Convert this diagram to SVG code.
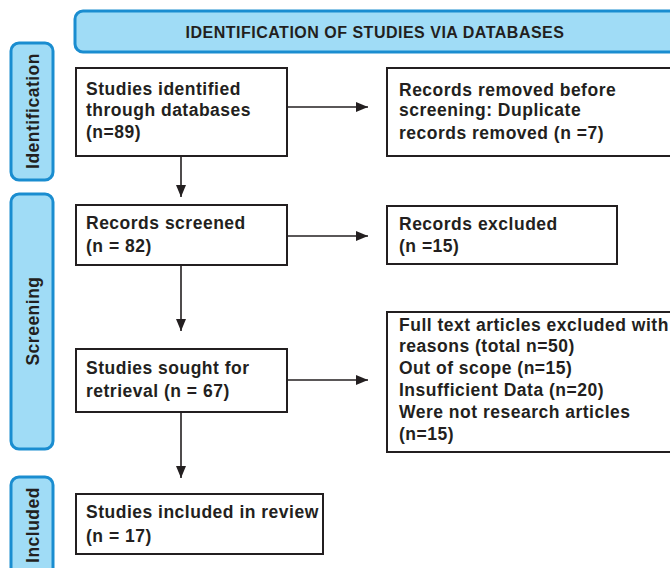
<svg xmlns="http://www.w3.org/2000/svg" width="670" height="568" viewBox="0 0 670 568">
<style>
.phase{fill:#a0dcf6;stroke:#1a8dd0;stroke-width:3}
.box{fill:#fff;stroke:#231f20;stroke-width:2}
.t{font-family:"Liberation Sans",Arial,sans-serif;font-weight:bold;font-size:17.5px;letter-spacing:0.5px;fill:#231f20}
.h{font-family:"Liberation Sans",Arial,sans-serif;font-weight:bold;font-size:16px;letter-spacing:0.5px;fill:#231f20}
.c{stroke:#231f20;stroke-width:1.6;fill:none}
</style>
<defs>
<marker id="ah" viewBox="0 0 12 10" refX="12" refY="5" markerWidth="12" markerHeight="10" markerUnits="userSpaceOnUse" orient="auto">
<path d="M0,0 L12,5 L0,10 Z" fill="#231f20"/>
</marker>
</defs>
<g id="banner">
<rect class="phase" x="75" y="11" width="620" height="41" rx="8"/>
<text class="h" x="375" y="38" text-anchor="middle">IDENTIFICATION OF STUDIES VIA DATABASES</text>
</g>
<g id="phase-identification">
<rect class="phase" x="11" y="43" width="42" height="137" rx="8"/>
<text class="t" transform="translate(39,111) rotate(-90)" text-anchor="middle">Identification</text>
</g>
<g id="phase-screening">
<rect class="phase" x="11" y="194" width="42" height="255" rx="8"/>
<text class="t" transform="translate(39,321) rotate(-90)" text-anchor="middle">Screening</text>
</g>
<g id="phase-included">
<rect class="phase" x="11" y="477" width="42" height="100" rx="8"/>
<text class="t" transform="translate(39,525) rotate(-90)" text-anchor="middle">Included</text>
</g>
<g id="identified">
<rect class="box" x="76" y="68" width="211" height="88"/>
<text class="t" x="86" y="95">Studies identified</text>
<text class="t" x="86" y="116">through databases</text>
<text class="t" x="86" y="138">(n=89)</text>
</g>
<g id="removed">
<rect class="box" x="387" y="68" width="300" height="88"/>
<text class="t" x="399" y="96">Records removed before</text>
<text class="t" x="399" y="116">screening:  Duplicate</text>
<text class="t" x="399" y="139">records removed (n =7)</text>
</g>
<g id="screened">
<rect class="box" x="76" y="205" width="211" height="60"/>
<text class="t" x="86" y="229">Records screened</text>
<text class="t" x="86" y="252">(n = 82)</text>
</g>
<g id="excluded">
<rect class="box" x="387" y="206" width="230" height="58"/>
<text class="t" x="399" y="230">Records excluded</text>
<text class="t" x="399" y="252">(n =15)</text>
</g>
<g id="sought">
<rect class="box" x="76" y="349" width="211" height="63"/>
<text class="t" x="86" y="374">Studies sought for</text>
<text class="t" x="86" y="397">retrieval (n = 67)</text>
</g>
<g id="fulltext">
<rect class="box" x="387" y="312" width="300" height="140"/>
<text class="t" x="399" y="331">Full text articles excluded with</text>
<text class="t" x="399" y="352">reasons (total n=50)</text>
<text class="t" x="399" y="374">Out of scope (n=15)</text>
<text class="t" x="399" y="396">Insufficient Data (n=20)</text>
<text class="t" x="399" y="418">Were not research articles</text>
<text class="t" x="399" y="440">(n=15)</text>
</g>
<g id="included">
<rect class="box" x="76" y="494" width="247" height="60"/>
<text class="t" x="86" y="518">Studies included in review</text>
<text class="t" x="86" y="542">(n = 17)</text>
</g>
<g id="connectors">
<line class="c" x1="287" y1="107" x2="368" y2="107" marker-end="url(#ah)"/>
<line class="c" x1="287" y1="236" x2="368" y2="236" marker-end="url(#ah)"/>
<line class="c" x1="287" y1="380" x2="368" y2="380" marker-end="url(#ah)"/>
<line class="c" x1="181" y1="156" x2="181" y2="197" marker-end="url(#ah)"/>
<line class="c" x1="181" y1="265" x2="181" y2="331" marker-end="url(#ah)"/>
<line class="c" x1="181" y1="412" x2="181" y2="478" marker-end="url(#ah)"/>
</g>
</svg>
